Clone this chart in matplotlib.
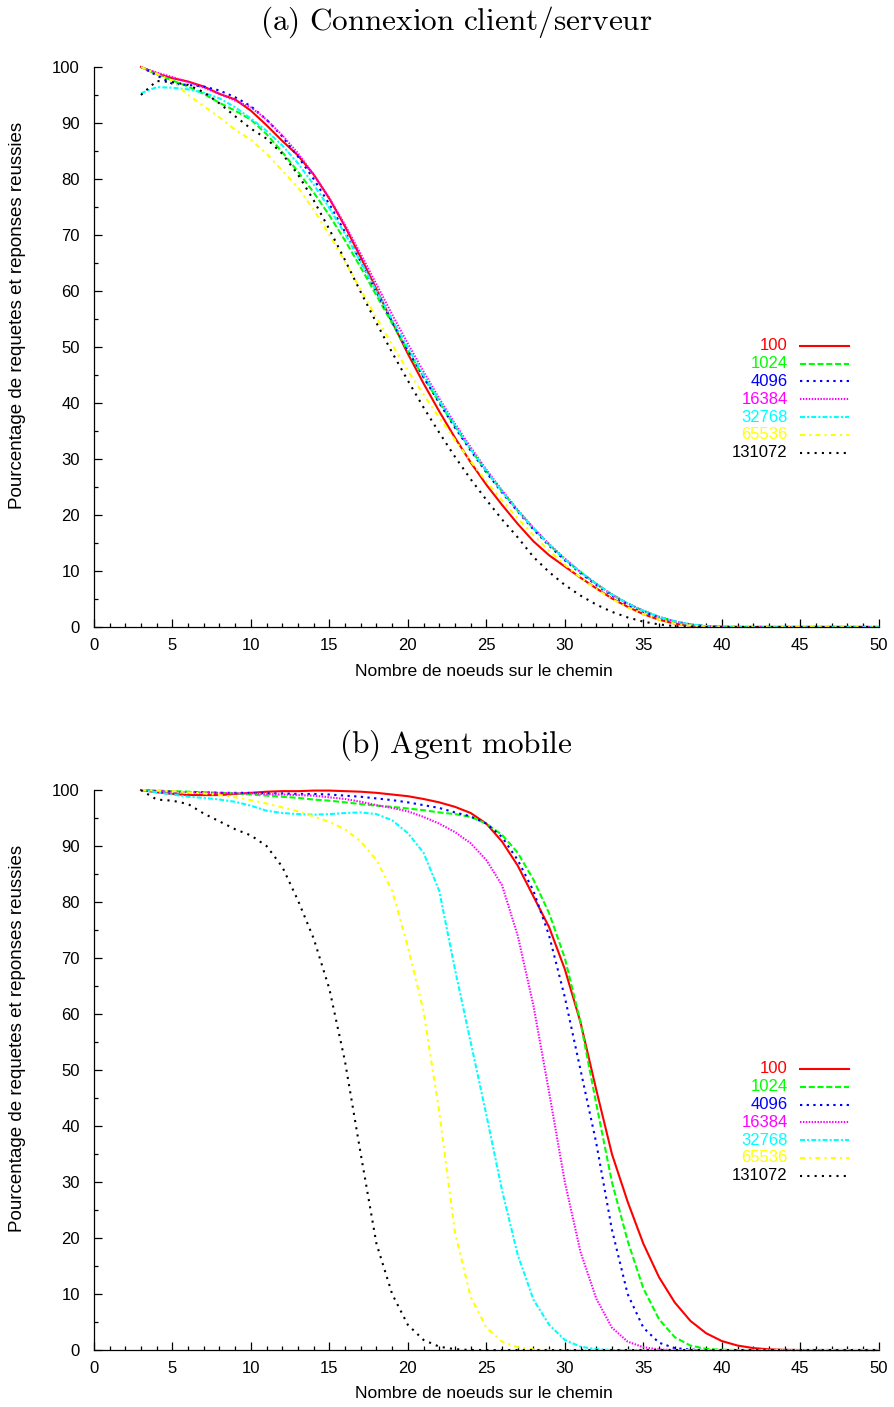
import numpy as np
import matplotlib.pyplot as plt
from matplotlib.ticker import MultipleLocator

plt.rcParams["font.family"] = ["Liberation Sans", "DejaVu Sans"]
plt.rcParams["mathtext.fontset"] = "cm"

# number of nodes on the path (x axis), 3..50
nodes = list(range(3, 51))
sizes = ["100", "1024", "4096", "16384", "32768", "65536", "131072"]

# (a) client/server connection, % of successful requests
# rows: x = 3-12, 13-22, 23-32, 33-42, 43-50
cs_100 = [100, 98.8, 98, 97.4, 96.5, 95.2, 94.2, 92.2, 89.6, 86.8,
          84.2, 80.8, 76.5, 71.5, 66, 60.3, 54.5, 48.8, 43.5, 38.5,
          33.8, 29.4, 25.4, 21.8, 18.4, 15.3, 12.8, 10.8, 8.8, 6.9,
          5.1, 3.6, 2.3, 1.3, 0.6, 0.25, 0.08, 0, 0, 0,
          0, 0, 0, 0, 0, 0, 0, 0]
cs_1024 = [100, 98.7, 97.6, 96.5, 95.2, 93.6, 92.2, 90.6, 88, 84.8,
           81.3, 77.6, 73.5, 69, 64.2, 59.2, 54.2, 49.3, 44.6, 40.1,
           35.8, 31.7, 27.8, 24.2, 20.8, 17.6, 14.7, 12.1, 9.8, 7.7,
           5.8, 4.2, 2.9, 1.8, 1, 0.45, 0.15, 0.04, 0, 0,
           0, 0, 0, 0, 0, 0, 0, 0]
cs_4096 = [100, 98.5, 97, 96.8, 96.5, 95.8, 94.6, 93, 90.6, 87.6,
           84, 80, 75.5, 70.5, 65.2, 59.8, 54.5, 49.4, 44.6, 40,
           35.6, 31.5, 27.6, 24, 20.6, 17.4, 14.5, 11.9, 9.6, 7.5,
           5.6, 4, 2.7, 1.7, 0.9, 0.4, 0.13, 0.03, 0, 0,
           0, 0, 0, 0, 0, 0, 0, 0]
cs_16384 = [100, 99, 98.2, 97.3, 96.3, 95.2, 94, 92.8, 90.6, 87.8,
            84.6, 80.8, 76.6, 71.8, 66.6, 61.2, 55.8, 50.6, 45.6, 40.8,
            36.3, 32.1, 28.1, 24.4, 20.9, 17.7, 14.8, 12.2, 9.8, 7.7,
            5.8, 4.2, 2.9, 1.8, 1, 0.45, 0.15, 0.04, 0, 0,
            0, 0, 0, 0, 0, 0, 0, 0]
cs_32768 = [95.3, 96.4, 96.3, 96, 95.4, 94.4, 92.8, 90.8, 88.6, 86,
            82.8, 79, 74.8, 70.2, 65.2, 60, 54.9, 49.9, 45, 40.4,
            36, 31.8, 27.9, 24.2, 20.8, 17.6, 14.7, 12.1, 9.8, 7.7,
            5.8, 4.2, 2.9, 1.8, 1, 0.45, 0.15, 0.04, 0, 0,
            0, 0, 0, 0, 0, 0, 0, 0]
cs_65536 = [100, 98.8, 97.5, 95, 93, 91, 88.8, 87, 84.5, 81.5,
            78.5, 74.5, 70, 65.2, 60.2, 55.2, 50.4, 45.8, 41.5, 37.4,
            33.4, 29.6, 26, 22.6, 19.4, 16.4, 13.6, 11.1, 8.8, 6.8,
            5, 3.5, 2.3, 1.3, 0.6, 0.25, 0.08, 0, 0, 0,
            0, 0, 0, 0, 0, 0, 0, 0]
cs_131072 = [95, 97.5, 97.3, 96.8, 95.5, 93.5, 91.2, 89, 87.2, 84.5,
             80.8, 76.2, 71, 65.5, 59.8, 54.3, 49, 44, 39.2, 34.7,
             30.4, 26.4, 22.7, 19.2, 16, 12.5, 9.8, 7.5, 5.6, 4,
             2.7, 1.7, 0.95, 0.45, 0.15, 0.03, 0, 0, 0, 0,
             0, 0, 0, 0, 0, 0, 0, 0]

# (b) mobile agent, % of successful requests
am_100 = [100, 99.6, 99.3, 99.1, 99.1, 99.1, 99.3, 99.5, 99.7, 99.8,
          99.8, 99.9, 99.9, 99.8, 99.7, 99.5, 99.2, 98.9, 98.4, 97.8,
          97, 95.9, 94, 90.8, 86.5, 81, 75.5, 68, 58.5, 46.5,
          35, 26.5, 19, 13, 8.5, 5.2, 3, 1.6, 0.8, 0.35,
          0.12, 0.03, 0, 0, 0, 0, 0, 0]
am_1024 = [100, 99.9, 99.8, 99.7, 99.6, 99.5, 99.4, 99.2, 99, 98.8,
           98.6, 98.3, 98.1, 97.8, 97.5, 97.2, 97, 96.7, 96.4, 96,
           95.7, 95.2, 94, 92, 88.8, 84, 78, 70, 58.5, 44,
           30, 19.5, 11, 5.5, 2.3, 0.8, 0.2, 0.05, 0, 0,
           0, 0, 0, 0, 0, 0, 0, 0]
am_4096 = [100, 99.8, 99.7, 99.6, 99.6, 99.5, 99.5, 99.5, 99.4, 99.4,
           99.3, 99.3, 99.2, 99, 98.8, 98.5, 98.2, 97.8, 97.3, 96.8,
           96, 95.3, 94, 91.6, 87.5, 82, 74, 63, 50, 37,
           21.5, 10, 4, 1.3, 0.35, 0.08, 0, 0, 0, 0,
           0, 0, 0, 0, 0, 0, 0, 0]
am_16384 = [100, 99.8, 99.7, 99.6, 99.5, 99.5, 99.4, 99.4, 99.3, 99.2,
            99.1, 99, 98.7, 98.4, 97.9, 97.3, 96.8, 96.2, 95.2, 94,
            92.5, 90.5, 87.5, 83, 74, 61.5, 46, 30, 17.5, 9.2,
            4, 1.5, 0.5, 0.1, 0, 0, 0, 0, 0, 0,
            0, 0, 0, 0, 0, 0, 0, 0]
am_32768 = [100, 99.6, 99.2, 98.8, 98.6, 98.3, 97.9, 97.2, 96.3, 95.9,
            95.7, 95.6, 95.7, 95.9, 96, 95.7, 94.6, 92.3, 88.8, 82,
            68, 55, 42, 28.5, 17, 9, 4.5, 1.8, 0.6, 0.15,
            0, 0, 0, 0, 0, 0, 0, 0, 0, 0,
            0, 0, 0, 0, 0, 0, 0, 0]
am_65536 = [100, 99.9, 99.8, 99.6, 99.4, 99.1, 98.7, 98.2, 97.6, 96.9,
            96.2, 95.3, 94.3, 93, 90.8, 87.5, 82, 72, 60.5, 42.5,
            21, 9.5, 4, 1.5, 0.5, 0.1, 0, 0, 0, 0,
            0, 0, 0, 0, 0, 0, 0, 0, 0, 0,
            0, 0, 0, 0, 0, 0, 0, 0]
am_131072 = [100, 98.3, 98.1, 97.5, 95.8, 94.4, 93, 91.9, 90, 86.3,
             80.3, 73.5, 64.5, 51.5, 35, 19, 10, 4.5, 1.8, 0.6,
             0.15, 0, 0, 0, 0, 0, 0, 0, 0, 0,
             0, 0, 0, 0, 0, 0, 0, 0, 0, 0,
             0, 0, 0, 0, 0, 0, 0, 0]

colors = ["#ff0000", "#00ff00", "#0000ff", "#ff00ff", "#00ffff", "#ffff00", "#000000"]
dashes = [(), (2.9, 1.3), (1.1, 2.1), (0.7, 0.7), (2.4, 1, 1, 1), (2.4, 2, 1, 2), (1, 2.5)]
LW = 1.5


def style_axis(ax):
    ax.set_xlim(0, 50)
    ax.set_ylim(0, 100)
    ax.spines["top"].set_visible(False)
    ax.spines["right"].set_visible(False)
    for s in ("left", "bottom"):
        ax.spines[s].set_linewidth(0.9)
    ax.xaxis.set_major_locator(MultipleLocator(5))
    ax.xaxis.set_minor_locator(MultipleLocator(1))
    ax.yaxis.set_major_locator(MultipleLocator(10))
    ax.yaxis.set_minor_locator(MultipleLocator(5))
    ax.tick_params(which="both", direction="in", width=0.9, labelsize=12)
    ax.tick_params(which="major", length=6)
    ax.tick_params(which="minor", length=3)
    ax.tick_params(axis="x", pad=8)
    ax.tick_params(axis="y", pad=10)


def draw_curves(ax, series):
    for vals, c, d in zip(series, colors, dashes):
        line, = ax.plot(nodes, vals, color=c, lw=LW, clip_on=False)
        if d:
            line.set_dashes(d)


def draw_key(ax):
    # gnuplot-like key: right-aligned coloured label, then line sample
    y0, step = 0.502, 0.0318
    for i, (lab, c, d) in enumerate(zip(sizes, colors, dashes)):
        y = y0 - i * step
        ax.text(0.884, y, lab, color=c, fontsize=12, ha="right", va="center",
                transform=ax.transAxes)
        line, = ax.plot([0.899, 0.962], [y, y], color=c, lw=LW,
                        transform=ax.transAxes, clip_on=False)
        if d:
            line.set_dashes(d)


fig = plt.figure(figsize=(8.94, 14.07), dpi=100)
ax_a = fig.add_axes([0.105, 0.5544, 0.878, 0.398])
ax_b = fig.add_axes([0.105, 0.0405, 0.878, 0.398])

draw_curves(ax_a, [cs_100, cs_1024, cs_4096, cs_16384, cs_32768, cs_65536, cs_131072])
draw_curves(ax_b, [am_100, am_1024, am_4096, am_16384, am_32768, am_65536, am_131072])

for ax in (ax_a, ax_b):
    style_axis(ax)
    draw_key(ax)

ylab = "Pourcentage de requetes et reponses reussies"
xlab = "Nombre de noeuds sur le chemin"
fig.text(0.51, 1 - 22 / 1407, r"$\mathrm{(a)\ Connexion\ client/serveur}$",
         fontsize=22.5, ha="center", va="center")
fig.text(0.51, 1 - 745 / 1407, r"$\mathrm{(b)\ Agent\ mobile}$",
         fontsize=22.5, ha="center", va="center")
fig.text(18 / 894, 1 - 315 / 1407, ylab, rotation=90, fontsize=13.5, ha="center", va="center")
fig.text(18 / 894, 1 - 1038 / 1407, ylab, rotation=90, fontsize=13.5, ha="center", va="center")
fig.text(0.541, 1 - 671 / 1407, xlab, fontsize=12.6, ha="center", va="center")
fig.text(0.541, 1 - 1393 / 1407, xlab, fontsize=12.6, ha="center", va="center")

fig.savefig("out.png", dpi=100)
